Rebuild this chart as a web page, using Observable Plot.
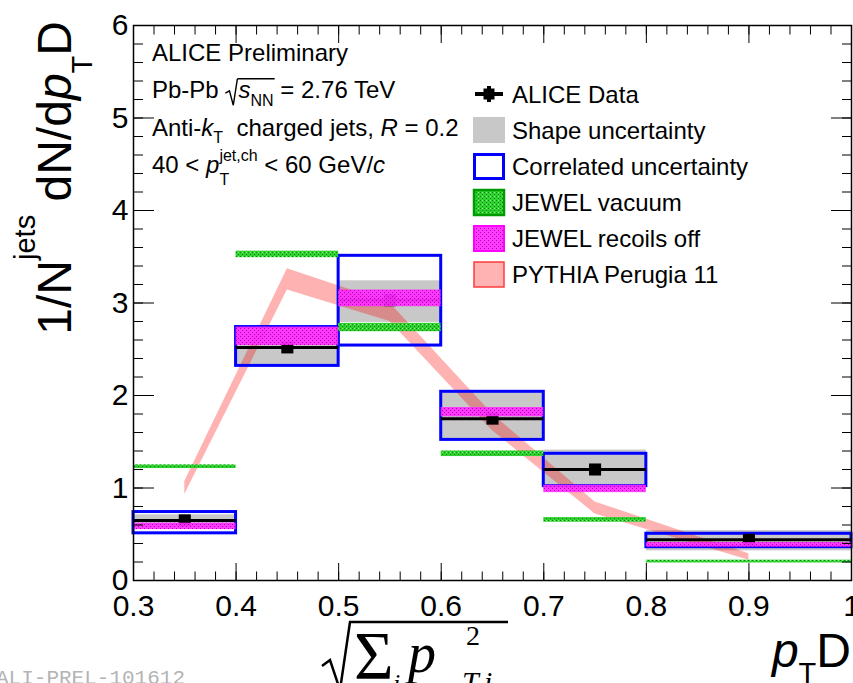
<!DOCTYPE html>
<html><head><meta charset="utf-8">
<script src="https://cdn.jsdelivr.net/npm/d3@7"></script>
<script src="https://cdn.jsdelivr.net/npm/@observablehq/plot@0.6"></script>
<style>html,body{margin:0;padding:0;background:#fff;overflow:hidden}</style>
</head><body><div id="chart"></div>
<script>
// ---- data ----
const binLo      = [0.3, 0.4, 0.5, 0.6, 0.7, 0.8];
const binHi      = [0.4, 0.5, 0.6, 0.7, 0.8, 1.0];
const binCenter  = [0.35, 0.45, 0.55, 0.65, 0.75, 0.9];
const aliceData  = [0.65, 2.52, 3.03, 1.75, 1.20, 0.44];
const shapeLo    = [0.59, 2.33, 2.79, 1.53, 0.99, 0.32];
const shapeHi    = [0.71, 2.72, 3.24, 2.03, 1.41, 0.54];
const corrLo     = [0.51, 2.32, 2.54, 1.52, 1.02, 0.36];
const corrHi     = [0.74, 2.74, 3.51, 2.04, 1.37, 0.505];
const jewelVacLo = [1.21, 3.49, 2.69, 1.34, 0.63, 0.19];
const jewelVacHi = [1.25, 3.56, 2.78, 1.40, 0.68, 0.22];
const jewelRecLo = [0.55, 2.54, 2.96, 1.77, 0.95, 0.36];
const jewelRecHi = [0.62, 2.74, 3.14, 1.87, 1.03, 0.41];
const pythiaLo   = [0.93, 3.14, 2.80, 1.62, 0.72, 0.22];
const pythiaHi   = [1.07, 3.37, 3.00, 1.80, 0.85, 0.29];

const xMajorTicks = [0.3, 0.4, 0.5, 0.6, 0.7, 0.8, 0.9, 1.0];
const yMajorTicks = [0, 1, 2, 3, 4, 5, 6];
const xMinorTicks = d3.range(0, 36).map(i => 0.3 + i * 0.02);
const yMinorTicks = d3.range(0, 31).map(i => i * 0.2);

const legendLabels = ["ALICE Data", "Shape uncertainty", "Correlated uncertainty", "JEWEL vacuum", "JEWEL recoils off", "PYTHIA Perugia 11"];

const bins = binLo.map((lo, i) => ({
  lo, hi: binHi[i], c: binCenter[i], v: aliceData[i],
  sLo: shapeLo[i], sHi: shapeHi[i], cLo: corrLo[i], cHi: corrHi[i],
  gLo: jewelVacLo[i], gHi: jewelVacHi[i], mLo: jewelRecLo[i], mHi: jewelRecHi[i]
}));
const pythia = binCenter.map((x, i) => ({x, lo: pythiaLo[i], hi: pythiaHi[i]}));

const FONT = "'Liberation Sans', Arimo, Helvetica, Arial, sans-serif";
const SERIF = "'Liberation Serif', 'DejaVu Serif', serif";
const fmtX = d => Math.abs(d - 1) < 1e-9 ? "1" : d.toFixed(1);

const plot = Plot.plot({
  width: 853, height: 683,
  marginLeft: 133, marginRight: 2, marginTop: 25, marginBottom: 103,
  style: {fontFamily: FONT, background: "white", color: "black"},
  x: {domain: [0.3, 1.0], label: null},
  y: {domain: [0, 6], label: null},
  marks: [
    Plot.rect(bins, {x1: "lo", x2: "hi", y1: "sLo", y2: "sHi", fill: "#c8c8c8"}),
    Plot.areaY(pythia, {x: "x", y1: "lo", y2: "hi", fill: "#ff0000", fillOpacity: 0.3}),
    Plot.rect(bins, {x1: "lo", x2: "hi", y1: "cLo", y2: "cHi", fill: "none", stroke: "#0000ff", strokeWidth: 3}),
    Plot.ruleY(bins, {x1: "lo", x2: "hi", y: "v", stroke: "black", strokeWidth: 3}),
    Plot.dot(bins, {x: "c", y: "v", symbol: "square", r: 6.8, fill: "black"}),
    Plot.rect(bins, {x1: "lo", x2: "hi", y1: "gLo", y2: "gHi", fill: "url(#greenPat)"}),
    Plot.rect(bins, {x1: "lo", x2: "hi", y1: "mLo", y2: "mHi", fill: "url(#magPat)"}),
    // inward ROOT-style ticks
    Plot.axisX({anchor: "bottom", ticks: xMinorTicks, tickSize: -8.5, tickFormat: () => "", label: null}),
    Plot.axisX({anchor: "bottom", ticks: xMajorTicks, tickSize: -17, tickFormat: () => "", label: null}),
    Plot.axisX({anchor: "top", ticks: xMinorTicks, tickSize: -8.5, tickFormat: () => "", label: null}),
    Plot.axisX({anchor: "top", ticks: xMajorTicks, tickSize: -17, tickFormat: () => "", label: null}),
    Plot.axisY({anchor: "left", ticks: yMinorTicks, tickSize: -10, tickFormat: () => "", label: null}),
    Plot.axisY({anchor: "left", ticks: yMajorTicks, tickSize: -21, tickFormat: () => "", label: null}),
    Plot.axisY({anchor: "right", ticks: yMinorTicks, tickSize: -10, tickFormat: () => "", label: null}),
    Plot.axisY({anchor: "right", ticks: yMajorTicks, tickSize: -21, tickFormat: () => "", label: null}),
    // tick labels
    Plot.axisX({anchor: "bottom", ticks: xMajorTicks, tickSize: 0, tickPadding: 14, fontSize: 30, tickFormat: fmtX, label: null}),
    Plot.axisY({anchor: "left", ticks: yMajorTicks, tickSize: 0, tickPadding: 5, fontSize: 30, tickFormat: d => String(d), label: null}),
    Plot.frame({stroke: "black", strokeWidth: 1.5})
  ]
});
document.getElementById("chart").appendChild(plot);

const svg = d3.select(plot);
// patterns for the hatched JEWEL bands
const defs = svg.insert("defs", ":first-child");
const gp = defs.append("pattern").attr("id", "greenPat").attr("patternUnits", "userSpaceOnUse").attr("width", 4).attr("height", 4);
gp.append("rect").attr("width", 4).attr("height", 4).attr("fill", "#2fd02f");
gp.append("rect").attr("x", 0).attr("y", 0).attr("width", 1).attr("height", 1).attr("fill", "#078507");
gp.append("rect").attr("x", 2).attr("y", 2).attr("width", 1).attr("height", 1).attr("fill", "#078507");
gp.append("rect").attr("x", 2).attr("y", 0).attr("width", 1).attr("height", 1).attr("fill", "#8ff08f");
const mp = defs.append("pattern").attr("id", "magPat").attr("patternUnits", "userSpaceOnUse").attr("width", 4).attr("height", 4);
mp.append("rect").attr("width", 4).attr("height", 4).attr("fill", "#ff2cff").attr("fill-opacity", 0.92);
mp.append("rect").attr("x", 0).attr("y", 0).attr("width", 1).attr("height", 1).attr("fill", "#b000b0");
mp.append("rect").attr("x", 2).attr("y", 2).attr("width", 1).attr("height", 1).attr("fill", "#b000b0");

// rich text helper (sub/superscripts, radicals)
function rich(sel, parts, {x, y, anchor = "start", rotate = 0, size = 24, family = FONT, fill = "black"}) {
  const g = sel.append("g").attr("transform", `translate(${x},${y})` + (rotate ? ` rotate(${rotate})` : ""));
  const inner = g.append("g");
  let cx = 0, lastStart = 0, lastEnd = 0, rad = null;
  for (const p of parts) {
    if (p.radical) {
      const s = size;
      const top = -0.8 * s;
      inner.append("path")
        .attr("d", `M${cx},${-0.2 * s}L${cx + 0.17 * s},${-0.3 * s}L${cx + 0.33 * s},${0.3 * s}L${cx + 0.5 * s},${top}`)
        .attr("fill", "none").attr("stroke", fill).attr("stroke-width", 1.4);
      rad = {start: cx + 0.5 * s, top};
      cx += 0.55 * s; lastStart = cx; lastEnd = cx;
      continue;
    }
    const start = p.stack ? lastStart : cx;
    const t = inner.append("text")
      .attr("x", start).attr("y", p.dy || 0)
      .attr("text-anchor", "start")
      .attr("font-size", p.size || size).attr("font-family", p.family || family)
      .attr("font-style", p.italic ? "italic" : "normal")
      .attr("fill", fill).style("white-space", "pre")
      .text(p.t);
    const w = t.node().getComputedTextLength();
    const end = start + w;
    cx = p.stack ? Math.max(lastEnd, end) : end;
    lastStart = start; lastEnd = end;
    if (p.closeRadical && rad) {
      inner.append("line").attr("x1", rad.start).attr("x2", cx + 1).attr("y1", rad.top).attr("y2", rad.top)
        .attr("stroke", fill).attr("stroke-width", 1.4);
      rad = null;
    }
  }
  if (anchor === "end") inner.attr("transform", `translate(${-cx},0)`);
  return inner;
}

const ann = svg.append("g").attr("text-anchor", "start");
// top-left labels
rich(ann, [{t: "ALICE Preliminary"}], {x: 152, y: 61});
rich(ann, [{t: "Pb-Pb "}, {radical: true}, {t: "s", italic: true}, {t: "NN", size: 16, dy: 8, closeRadical: true}, {t: " = 2.76 TeV"}], {x: 152, y: 98});
rich(ann, [{t: "Anti-"}, {t: "k", italic: true}, {t: "T", size: 16, dy: 7}, {t: "  charged jets, "}, {t: "R", italic: true}, {t: " = 0.2"}], {x: 152, y: 136});
rich(ann, [{t: "40 < "}, {t: "p", italic: true}, {t: "jet,ch", size: 16, dy: -12}, {t: "T", size: 16, dy: 12, stack: true}, {t: " < 60 GeV/"}, {t: "c", italic: true}], {x: 152, y: 173});

// legend
const leg = svg.append("g").attr("text-anchor", "start");
const rowY = legendLabels.map((_, i) => 94 + i * 36);
const sx0 = 473, sx1 = 505, sxc = 489;
// ALICE data symbol
leg.append("line").attr("x1", sx0 + 2).attr("x2", sx1 - 2).attr("y1", rowY[0]).attr("y2", rowY[0]).attr("stroke", "black").attr("stroke-width", 4);
leg.append("line").attr("x1", sxc).attr("x2", sxc).attr("y1", rowY[0] - 8).attr("y2", rowY[0] + 8).attr("stroke", "black").attr("stroke-width", 4);
leg.append("rect").attr("x", sxc - 5.5).attr("y", rowY[0] - 5.5).attr("width", 11).attr("height", 11).attr("fill", "black");
// shape
leg.append("rect").attr("x", sx0).attr("y", rowY[1] - 13).attr("width", 32).attr("height", 26).attr("fill", "#c8c8c8");
// correlated
leg.append("rect").attr("x", sx0 + 1.5).attr("y", rowY[2] - 11.5).attr("width", 29).attr("height", 24).attr("fill", "none").attr("stroke", "#0000ff").attr("stroke-width", 3);
// JEWEL vacuum
leg.append("rect").attr("x", sx0 + 1).attr("y", rowY[3] - 12).attr("width", 30).attr("height", 25).attr("fill", "url(#greenPat)").attr("stroke", "#009a00").attr("stroke-width", 2.5);
// JEWEL recoils off
leg.append("rect").attr("x", sx0 + 1).attr("y", rowY[4] - 12).attr("width", 30).attr("height", 25).attr("fill", "url(#magPat)").attr("stroke", "#ff00ff").attr("stroke-width", 2);
// PYTHIA
leg.append("rect").attr("x", sx0 + 1).attr("y", rowY[5] - 12).attr("width", 30).attr("height", 25).attr("fill", "#ffb3b3").attr("stroke", "#ff3b3b").attr("stroke-width", 1.5);
legendLabels.forEach((lab, i) => rich(leg, [{t: lab}], {x: 512, y: rowY[i] + 8.5}));

// axis titles
rich(ann, [
  {t: "1/N"}, {t: "jets", size: 29, dy: -36}, {t: " dN/d"}, {t: "p", italic: true}, {t: "T", size: 29, dy: 21}, {t: "D"}
], {x: 71, y: 21, rotate: -90, anchor: "end", size: 48});
rich(ann, [{t: "p", italic: true}, {t: "T", size: 29, dy: 16}, {t: "D"}], {x: 851, y: 667, anchor: "end", size: 48});

// formula fragment below the axis
const fm = svg.append("g").attr("text-anchor", "start");
fm.append("path").attr("d", "M322,666L330,660L340,690L350,622L508,622").attr("fill", "none").attr("stroke", "black").attr("stroke-width", 2.5);
fm.append("text").attr("x", 354).attr("y", 678).attr("font-family", SERIF).attr("font-size", 68).text("Σ");
fm.append("text").attr("x", 393).attr("y", 692).attr("font-family", SERIF).attr("font-style", "italic").attr("font-size", 26).text("i");
fm.append("text").attr("x", 408).attr("y", 672).attr("font-family", SERIF).attr("font-style", "italic").attr("font-size", 56).text("p");
fm.append("text").attr("x", 466).attr("y", 645).attr("font-family", SERIF).attr("font-size", 28).text("2");
fm.append("text").attr("x", 462).attr("y", 692).attr("font-family", SERIF).attr("font-style", "italic").attr("font-size", 30).style("white-space", "pre").text("T,i");

// preliminary id
svg.append("text").attr("x", -4).attr("y", 684).attr("text-anchor", "start")
  .attr("font-family", "'Liberation Mono', 'DejaVu Sans Mono', monospace")
  .attr("font-size", 21).attr("fill", "#b4b4b4").text("ALI-PREL-101612");
</script>
</body></html>
